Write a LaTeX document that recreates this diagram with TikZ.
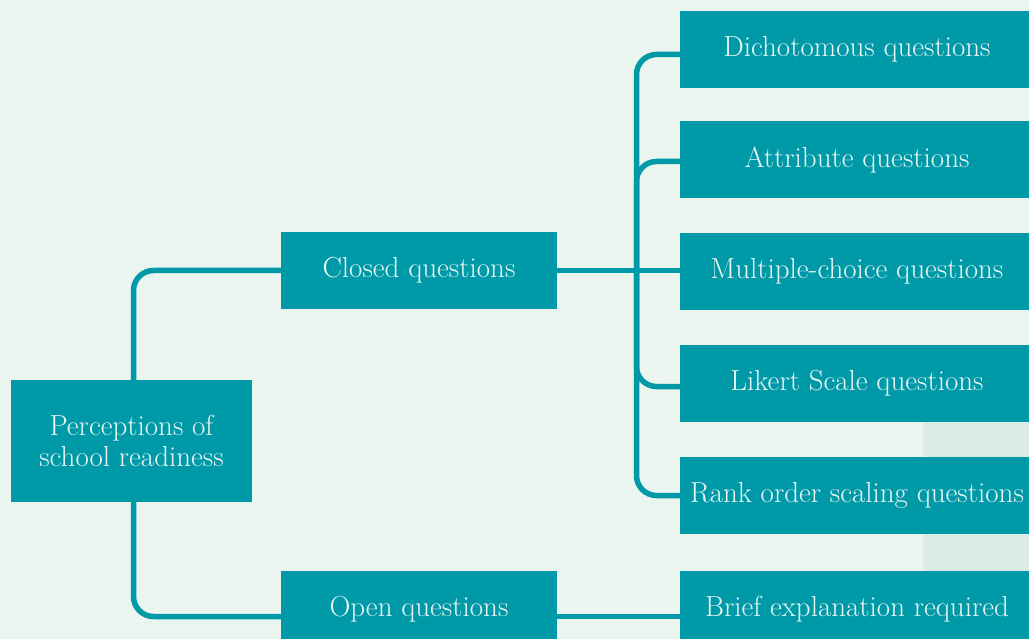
\documentclass[tikz,border=0pt]{standalone}
\definecolor{pagebg}{HTML}{EBF5F0}
\definecolor{bandbg}{HTML}{D9EDE4}
\definecolor{tealbox}{HTML}{0099A8}
\definecolor{boxtext}{HTML}{EAF6F4}
\begin{document}
\begin{tikzpicture}[x=1pt,y=-1pt,
  box/.style={fill=tealbox, draw=none, inner sep=0pt, text=boxtext,
    font=\fontsize{29}{31}\selectfont, align=center},
  leftbox/.style={box, minimum width=276pt, minimum height=77pt},
  rightbox/.style={box, minimum width=354pt, minimum height=77pt},
  link/.style={draw=tealbox, line width=5.5pt, rounded corners=20pt}]
\useasboundingbox (0,0) rectangle (1029,639);
\clip (0,0) rectangle (1029,639);
\fill[pagebg] (0,0) rectangle (1029,639);
\fill[bandbg] (923,422) rectangle (1029,571);

% root and first level
\node[box, minimum width=241pt, minimum height=122pt] (perc) at (131.5,441)
  {Perceptions of\\school readiness};
\node[leftbox] (closed) at (419,270.5) {Closed questions};
\node[leftbox] (open) at (419,609.5) {Open questions};

% question types
\node[rightbox] (dich)  at (857,49.5)  {Dichotomous questions};
\node[rightbox] (attr)  at (857,160)   {Attribute questions};
\node[rightbox] (mult)  at (857,271.5) {Multiple-choice questions};
\node[rightbox] (lik)   at (857,383.5) {Likert Scale questions};
\node[rightbox] (rank)  at (857,495.5) {Rank order scaling questions};
\node[rightbox] (brief) at (857,609.5) {Brief explanation required};

\coordinate (tk) at (636.5,0);

% connectors
\draw[link] ([xshift=2pt]perc.north) |- (closed.west);
\draw[link] ([xshift=2pt]perc.south) |- ([yshift=-7pt]open.west);
\draw[link] ([yshift=-7pt]open.east) -- ([yshift=-7pt]brief.west);
\draw[link] (closed.east) -- (closed.east -| mult.west);
\draw[link] ([yshift=-5pt]dich.west) -| (tk |- rank.west) -- (rank.west);
\draw[link] (tk |- mult.west) |- ([yshift=-1.5pt]attr.west);
\draw[link] (tk |- mult.west) |- ([yshift=-3pt]lik.west);
\end{tikzpicture}
\end{document}
